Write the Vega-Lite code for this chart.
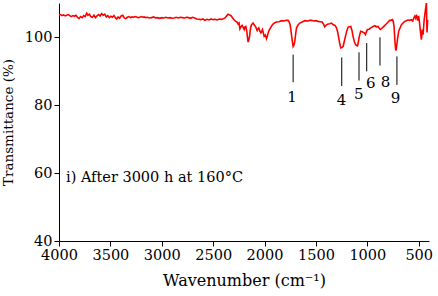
{
  "$schema": "https://vega.github.io/schema/vega-lite/v6.json",
  "autosize": "none",
  "width": 370,
  "height": 238,
  "padding": {"left": 59, "top": 3, "right": 9, "bottom": 55},
  "background": "white",
  "config": {
    "view": {"stroke": null},
    "font": "DejaVu Serif",
    "axis": {
      "grid": false,
      "domainColor": "black",
      "tickColor": "black",
      "labelColor": "black",
      "titleColor": "black",
      "titleFontWeight": "normal",
      "labelFont": "DejaVu Serif",
      "titleFont": "DejaVu Serif",
      "labelFontSize": 14.5,
      "domainWidth": 1,
      "tickWidth": 1,
      "labelOverlap": false,
      "labelBound": false,
      "labelFlush": false
    }
  },
  "datasets": {
    "spec": [
      {"wn":4000,"t":106.4},{"wn":3985,"t":106.6},{"wn":3970,"t":106.3},{"wn":3955,"t":106.5},{"wn":3940,"t":106.2},{"wn":3925,"t":106.4},{"wn":3910,"t":106.6},{"wn":3895,"t":106.3},{"wn":3880,"t":106.0},{"wn":3865,"t":106.3},{"wn":3850,"t":106.1},{"wn":3835,"t":106.4},{"wn":3820,"t":105.8},{"wn":3806,"t":105.4},{"wn":3790,"t":106.0},{"wn":3775,"t":105.7},{"wn":3760,"t":106.3},{"wn":3745,"t":106.0},{"wn":3731,"t":107.0},{"wn":3718,"t":106.4},{"wn":3705,"t":106.7},{"wn":3690,"t":106.0},{"wn":3675,"t":105.8},{"wn":3660,"t":106.4},{"wn":3645,"t":105.7},{"wn":3630,"t":106.2},{"wn":3615,"t":106.6},{"wn":3600,"t":106.2},{"wn":3585,"t":106.9},{"wn":3570,"t":106.4},{"wn":3555,"t":106.7},{"wn":3540,"t":105.9},{"wn":3525,"t":106.3},{"wn":3510,"t":105.7},{"wn":3495,"t":106.1},{"wn":3480,"t":105.8},{"wn":3465,"t":106.3},{"wn":3450,"t":105.6},{"wn":3439,"t":105.3},{"wn":3425,"t":105.9},{"wn":3410,"t":105.5},{"wn":3395,"t":106.2},{"wn":3380,"t":106.4},{"wn":3365,"t":105.6},{"wn":3350,"t":105.4},{"wn":3335,"t":105.8},{"wn":3320,"t":106.0},{"wn":3305,"t":105.7},{"wn":3290,"t":105.9},{"wn":3275,"t":105.8},{"wn":3260,"t":106.0},{"wn":3245,"t":105.9},{"wn":3230,"t":105.7},{"wn":3215,"t":105.8},{"wn":3200,"t":106.0},{"wn":3185,"t":105.8},{"wn":3170,"t":105.9},{"wn":3155,"t":105.7},{"wn":3140,"t":105.8},{"wn":3120,"t":105.6},{"wn":3100,"t":105.7},{"wn":3080,"t":105.9},{"wn":3060,"t":105.6},{"wn":3040,"t":105.7},{"wn":3020,"t":105.5},{"wn":3000,"t":105.7},{"wn":2980,"t":105.6},{"wn":2960,"t":105.8},{"wn":2940,"t":105.6},{"wn":2920,"t":105.7},{"wn":2900,"t":105.5},{"wn":2880,"t":105.6},{"wn":2860,"t":105.8},{"wn":2840,"t":105.6},{"wn":2820,"t":105.8},{"wn":2800,"t":105.7},{"wn":2780,"t":105.6},{"wn":2760,"t":105.8},{"wn":2740,"t":105.7},{"wn":2720,"t":105.5},{"wn":2700,"t":105.8},{"wn":2680,"t":105.6},{"wn":2660,"t":105.3},{"wn":2640,"t":105.2},{"wn":2620,"t":105.1},{"wn":2600,"t":105.3},{"wn":2580,"t":104.9},{"wn":2560,"t":105.2},{"wn":2540,"t":105.0},{"wn":2520,"t":105.3},{"wn":2500,"t":105.1},{"wn":2480,"t":105.2},{"wn":2460,"t":105.0},{"wn":2440,"t":105.3},{"wn":2420,"t":105.2},{"wn":2400,"t":105.4},{"wn":2385,"t":105.6},{"wn":2370,"t":106.2},{"wn":2355,"t":106.7},{"wn":2340,"t":106.5},{"wn":2325,"t":106.2},{"wn":2310,"t":105.6},{"wn":2295,"t":105.0},{"wn":2280,"t":104.6},{"wn":2265,"t":104.3},{"wn":2257,"t":103.8},{"wn":2248,"t":104.1},{"wn":2240,"t":102.4},{"wn":2230,"t":103.0},{"wn":2218,"t":103.4},{"wn":2208,"t":102.8},{"wn":2198,"t":102.2},{"wn":2190,"t":103.0},{"wn":2182,"t":103.1},{"wn":2172,"t":101.5},{"wn":2165,"t":99.5},{"wn":2160,"t":98.5},{"wn":2153,"t":99.2},{"wn":2146,"t":100.2},{"wn":2137,"t":102.5},{"wn":2127,"t":103.6},{"wn":2111,"t":104.1},{"wn":2100,"t":103.5},{"wn":2088,"t":103.1},{"wn":2080,"t":102.5},{"wn":2072,"t":101.9},{"wn":2064,"t":102.4},{"wn":2056,"t":102.7},{"wn":2046,"t":101.8},{"wn":2036,"t":101.2},{"wn":2028,"t":101.6},{"wn":2020,"t":102.2},{"wn":2012,"t":101.2},{"wn":2004,"t":100.2},{"wn":1992,"t":100.6},{"wn":1981,"t":99.5},{"wn":1973,"t":100.2},{"wn":1965,"t":101.2},{"wn":1955,"t":102.0},{"wn":1942,"t":102.7},{"wn":1930,"t":103.3},{"wn":1917,"t":103.8},{"wn":1900,"t":104.2},{"wn":1884,"t":104.4},{"wn":1860,"t":104.5},{"wn":1835,"t":104.8},{"wn":1810,"t":104.7},{"wn":1790,"t":104.9},{"wn":1771,"t":104.9},{"wn":1760,"t":104.4},{"wn":1751,"t":103.6},{"wn":1745,"t":102.3},{"wn":1738,"t":100.7},{"wn":1730,"t":98.8},{"wn":1722,"t":97.2},{"wn":1714,"t":97.6},{"wn":1706,"t":98.7},{"wn":1697,"t":101.0},{"wn":1689,"t":102.7},{"wn":1673,"t":103.6},{"wn":1657,"t":104.1},{"wn":1630,"t":104.5},{"wn":1608,"t":104.8},{"wn":1580,"t":104.7},{"wn":1560,"t":104.9},{"wn":1543,"t":104.9},{"wn":1520,"t":104.7},{"wn":1500,"t":104.8},{"wn":1479,"t":104.6},{"wn":1460,"t":104.5},{"wn":1440,"t":104.4},{"wn":1425,"t":103.7},{"wn":1414,"t":103.0},{"wn":1400,"t":103.5},{"wn":1382,"t":103.8},{"wn":1365,"t":103.9},{"wn":1349,"t":104.1},{"wn":1330,"t":103.6},{"wn":1315,"t":103.4},{"wn":1300,"t":102.7},{"wn":1288,"t":101.4},{"wn":1278,"t":99.7},{"wn":1268,"t":98.0},{"wn":1258,"t":96.8},{"wn":1247,"t":96.9},{"wn":1236,"t":97.2},{"wn":1225,"t":98.6},{"wn":1213,"t":100.2},{"wn":1200,"t":101.8},{"wn":1187,"t":102.9},{"wn":1175,"t":103.0},{"wn":1161,"t":103.1},{"wn":1150,"t":102.0},{"wn":1139,"t":100.2},{"wn":1126,"t":98.6},{"wn":1113,"t":97.7},{"wn":1105,"t":97.5},{"wn":1096,"t":97.4},{"wn":1088,"t":98.3},{"wn":1081,"t":99.7},{"wn":1072,"t":100.9},{"wn":1064,"t":101.7},{"wn":1053,"t":101.6},{"wn":1042,"t":101.4},{"wn":1030,"t":101.2},{"wn":1019,"t":100.7},{"wn":1009,"t":101.5},{"wn":999,"t":102.2},{"wn":983,"t":102.3},{"wn":967,"t":102.7},{"wn":948,"t":103.0},{"wn":928,"t":103.3},{"wn":912,"t":103.0},{"wn":896,"t":103.1},{"wn":884,"t":102.6},{"wn":873,"t":102.2},{"wn":860,"t":102.5},{"wn":847,"t":102.9},{"wn":830,"t":103.4},{"wn":814,"t":103.9},{"wn":798,"t":104.4},{"wn":782,"t":104.9},{"wn":770,"t":104.9},{"wn":756,"t":105.1},{"wn":748,"t":104.6},{"wn":740,"t":103.1},{"wn":735,"t":100.5},{"wn":730,"t":98.2},{"wn":725,"t":96.4},{"wn":721,"t":96.0},{"wn":714,"t":97.5},{"wn":707,"t":99.2},{"wn":700,"t":100.6},{"wn":695,"t":101.7},{"wn":680,"t":102.8},{"wn":668,"t":103.6},{"wn":650,"t":104.2},{"wn":636,"t":104.6},{"wn":620,"t":104.8},{"wn":607,"t":105.0},{"wn":590,"t":104.9},{"wn":571,"t":105.1},{"wn":558,"t":104.7},{"wn":548,"t":105.6},{"wn":539,"t":106.1},{"wn":530,"t":105.5},{"wn":522,"t":106.6},{"wn":516,"t":105.8},{"wn":510,"t":104.8},{"wn":505,"t":105.9},{"wn":500,"t":106.0},{"wn":495,"t":104.8},{"wn":490,"t":103.6},{"wn":485,"t":102.0},{"wn":480,"t":100.7},{"wn":474,"t":99.2},{"wn":470,"t":100.4},{"wn":466,"t":102.2},{"wn":462,"t":101.3},{"wn":458,"t":100.7},{"wn":452,"t":103.0},{"wn":447,"t":105.1},{"wn":442,"t":106.4},{"wn":437,"t":107.5},{"wn":431,"t":108.8},{"wn":425,"t":110.0},{"wn":422,"t":104.0},{"wn":419,"t":101.3},{"wn":416,"t":103.5},{"wn":413,"t":105.1}
    ],
    "marks": [
      {"wn":1722,"y1":94.8,"y2":86.7},
      {"wn":1249,"y1":94.0,"y2":85.6},
      {"wn":1081,"y1":95.5,"y2":87.2},
      {"wn":1006,"y1":98.2,"y2":89.9},
      {"wn":877,"y1":99.9,"y2":91.6},
      {"wn":712,"y1":94.3,"y2":85.9}
    ],
    "labels": [
      {"wn":1732,"y":82.5,"txt":"1"},
      {"wn":1252,"y":81.5,"txt":"4"},
      {"wn":1084,"y":83.3,"txt":"5"},
      {"wn":967,"y":86.4,"txt":"6"},
      {"wn":822,"y":86.9,"txt":"8"},
      {"wn":727,"y":82.0,"txt":"9"}
    ],
    "note": [
      {"wn":3932,"y":58.4,"txt":"i) After 3000 h at 160°C"}
    ]
  },
  "layer": [
    {
      "data": {"name": "spec"},
      "mark": {"type": "line", "color": "#ff0000", "strokeWidth": 1.6, "clip": true},
      "encoding": {
        "x": {
          "field": "wn", "type": "quantitative",
          "scale": {"domain": [400, 4000], "reverse": true, "nice": false, "zero": false},
          "axis": {
            "title": "Wavenumber (cm⁻¹)",
            "titleFontSize": 16,
            "values": [4000,3750,3500,3250,3000,2750,2500,2250,2000,1750,1500,1250,1000,750,500],
            "labelExpr": "datum.value % 500 === 0 ? datum.value : ''",
            "tickSize": 5,
            "labelPadding": 2,
            "titlePadding": 11,
            "encode": {"ticks": {"update": {"y2": {"signal": "datum.value % 500 === 0 ? 5 : 3"}}}}
          }
        },
        "y": {
          "field": "t", "type": "quantitative",
          "scale": {"domain": [40, 110], "nice": false, "zero": false},
          "axis": {
            "title": "Transmittance (%)",
            "titleFontSize": 13.5,
            "values": [40,50,60,70,80,90,100,110],
            "labelExpr": "datum.value % 20 === 0 ? datum.value : ''",
            "tickSize": 5,
            "labelPadding": 2,
            "titlePadding": 9,
            "encode": {"ticks": {"update": {"x2": {"signal": "datum.value % 20 === 0 ? -5 : -3"}}}}
          }
        },
        "order": {"field": "wn", "type": "quantitative", "sort": "descending"}
      }
    },
    {
      "data": {"name": "marks"},
      "mark": {"type": "rule", "color": "black", "strokeWidth": 1},
      "encoding": {
        "x": {"field": "wn", "type": "quantitative"},
        "y": {"field": "y1", "type": "quantitative"},
        "y2": {"field": "y2"}
      }
    },
    {
      "data": {"name": "labels"},
      "mark": {"type": "text", "font": "DejaVu Serif", "fontSize": 15, "color": "black", "align": "center", "baseline": "middle"},
      "encoding": {
        "x": {"field": "wn", "type": "quantitative"},
        "y": {"field": "y", "type": "quantitative"},
        "text": {"field": "txt"}
      }
    },
    {
      "data": {"name": "note"},
      "mark": {"type": "text", "font": "DejaVu Serif", "fontSize": 14.5, "color": "black", "align": "left", "baseline": "middle"},
      "encoding": {
        "x": {"field": "wn", "type": "quantitative"},
        "y": {"field": "y", "type": "quantitative"},
        "text": {"field": "txt"}
      }
    }
  ]
}
